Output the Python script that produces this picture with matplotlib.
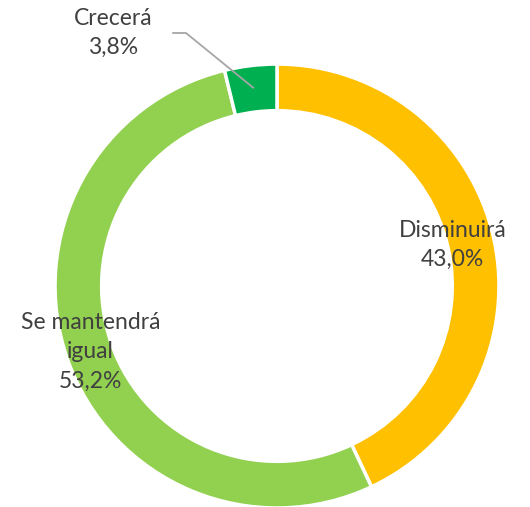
import numpy as np
import matplotlib.pyplot as plt

categorias = ["Disminuirá", "Se mantendrá\nigual", "Crecerá"]
valores = [43.0, 53.2, 3.8]
etiquetas = ["43,0%", "53,2%", "3,8%"]
colores = ["#FFC000", "#92D050", "#00B050"]

plt.rcParams['font.family'] = ['Lato', 'DejaVu Sans']

fig = plt.figure(figsize=(5.30, 5.07), dpi=100)
ax = fig.add_axes([0, 0, 1, 1])

wedges, _ = ax.pie(valores, colors=colores, startangle=90, counterclock=False,
                   radius=1.0, wedgeprops=dict(width=0.21, edgecolor="white", linewidth=2.5))

cor_texto = "#404040"
tam = 16.5
ax.text(0.79, 0.185, categorias[0] + "\n" + etiquetas[0], ha="center", va="center",
        fontsize=tam, color=cor_texto, linespacing=1.5)
ax.text(-0.84, -0.297, categorias[1] + "\n" + etiquetas[1], ha="center", va="center",
        fontsize=tam, color=cor_texto, linespacing=1.5)

# Crecerá: rótulo fora com linha guia
w = wedges[2]
ang = np.deg2rad((w.theta1 + w.theta2) / 2)
ponto = (0.9 * np.cos(ang), 0.9 * np.sin(ang))
ax.text(-0.739, 1.14, categorias[2] + "\n" + etiquetas[2], ha="center", va="center",
        fontsize=tam, color=cor_texto, linespacing=1.5)
ax.plot([-0.468, -0.410, ponto[0]], [1.14, 1.14, ponto[1]], color="#A6A6A6", lw=1.3)

ax.set_xlim(-1.248, 1.140)
ax.set_ylim(-0.995, 1.288)
ax.axis("off")

fig.savefig("out.png", dpi=100)
